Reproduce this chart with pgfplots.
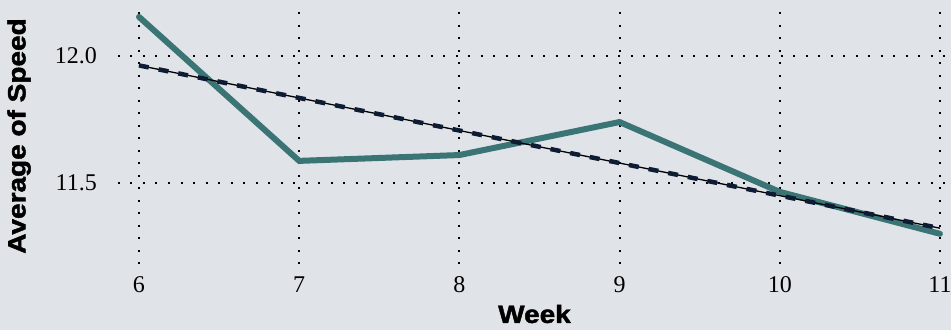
\documentclass[border=0pt]{standalone}
\usepackage{pgfplots}
\pgfplotsset{compat=1.18}
\usepackage{fontspec}
\setmainfont{Liberation Serif}
\newfontfamily\heavy[FakeStretch=1.12, BoldFeatures={FakeBold=1.8}]{Liberation Sans}
\definecolor{bg}{HTML}{E0E4E9}
\definecolor{teal}{HTML}{3B7474}
\definecolor{navy}{HTML}{0D1B33}
\begin{document}
\begin{tikzpicture}
\path[use as bounding box, fill=bg] (0,0) rectangle (951pt,330pt);
\begin{axis}[
  at={(118pt,66pt)}, anchor=south west,
  scale only axis, width=833pt, height=256pt,
  xmin=5.869, xmax=11.069, ymin=11.181, ymax=12.189,
  axis line style={draw=none}, tick style={draw=none},
  xtick={6,7,8,9,10,11}, ytick={11.5,12.0},
  /pgf/number format/assume math mode=true,
  yticklabel style={/pgf/number format/fixed, /pgf/number format/fixed zerofill, /pgf/number format/precision=1, anchor=east, inner sep=0pt, xshift=-21pt},
  ticklabel style={font=\fontsize{24}{28}\selectfont},
  xticklabel style={anchor=center, yshift=-21pt},
  grid=major,
  major grid style={black, line width=2pt, dash pattern=on 2pt off 10.5pt},
  xlabel={Week}, ylabel={Average of Speed},
  label style={font=\heavy\bfseries\fontsize{25}{30}\selectfont},
  xlabel style={at={(axis description cs:0.5,-0.1953)}, anchor=center},
  ylabel style={at={(axis description cs:-0.1188,0.5)}, anchor=center},
]
\addplot[teal, line width=6pt, line join=round, line cap=round] coordinates {
  (6,12.154) (7,11.587) (8,11.610) (9,11.740) (10,11.465) (11,11.300)
};
\addplot[black, line width=1.3pt] coordinates {(6,11.963) (11,11.322)};
\addplot[navy, line width=4.5pt, dash pattern=on 10pt off 10pt] coordinates {(6,11.963) (11,11.322)};
\end{axis}
\end{tikzpicture}
\end{document}
